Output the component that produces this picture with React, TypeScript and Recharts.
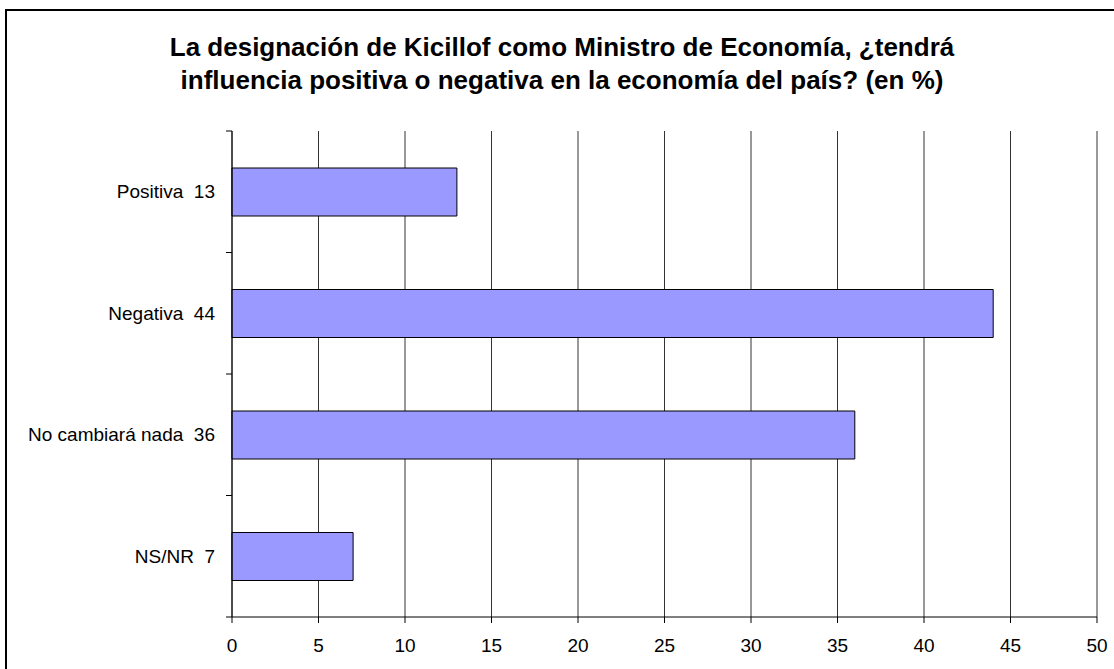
import React from "react";
import { BarChart, Bar, XAxis, YAxis, CartesianGrid } from "recharts";

const categories = ["Positiva\u00A0\u00A013", "Negativa\u00A0\u00A044", "No cambiará nada\u00A0\u00A036", "NS/NR\u00A0\u00A07"];
const values = [13, 44, 36, 7];
const xTicks = [0, 5, 10, 15, 20, 25, 30, 35, 40, 45, 50];
const titleLines = [
  "La designación de Kicillof como Ministro de Economía, ¿tendrá",
  "influencia positiva o negativa en la economía del país? (en %)",
];

const data = categories.map((c, i) => ({ name: c, value: values[i] }));

const FONT = '"Liberation Sans", Arial, sans-serif';
const TICK_SIZE = 6;
const TICK_MARGIN = 11;

function CategoryTick(props: any) {
  const { x, y, payload, index, height, visibleTicksCount } = props;
  const band = height / visibleTicksCount;
  const axisX = x + TICK_MARGIN + TICK_SIZE;
  const lines = [y - band / 2];
  if (index === visibleTicksCount - 1) lines.push(y + band / 2);
  return (
    <g>
      {lines.map((ly, i) => (
        <line key={i} x1={axisX - TICK_SIZE} x2={axisX} y1={ly} y2={ly} stroke="#000" strokeWidth={1} />
      ))}
      <text x={x} y={y} dy="0.355em" textAnchor="end" fill="#000" fontSize={19} fontFamily={FONT}>
        {payload.value}
      </text>
    </g>
  );
}

export default function App() {
  return (
    <div
      style={{
        position: "absolute",
        left: 0,
        top: 0,
        width: 1114,
        height: 669,
        overflow: "hidden",
        background: "#fff",
        fontFamily: FONT,
      }}
    >
      <div
        style={{
          position: "absolute",
          left: 5,
          top: 9,
          width: 1300,
          height: 900,
          border: "2px solid #000",
        }}
      />
      <div
        style={{
          position: "absolute",
          left: 0,
          top: 31,
          width: 1124,
          textAlign: "center",
          fontWeight: "bold",
          fontSize: 26,
          lineHeight: "33px",
          color: "#000",
        }}
      >
        {titleLines.map((t, i) => (
          <div key={i}>{t}</div>
        ))}
      </div>
      <div style={{ position: "absolute", left: 0, top: 0 }}>
        <BarChart
          width={1114}
          height={669}
          data={data}
          layout="vertical"
          margin={{ top: 131, right: 17, bottom: 12, left: 0 }}
          barSize={48}
        >
          <CartesianGrid vertical horizontal={false} stroke="#333" strokeOpacity={1} />
          <XAxis
            type="number"
            domain={[0, 50]}
            ticks={xTicks}
            interval={0}
            height={40}
            axisLine={{ stroke: "#000" }}
            tickLine={{ stroke: "#000" }}
            tickSize={6}
            tickMargin={16}
            tick={{ fill: "#000", fontSize: 19, fontFamily: FONT }}
          />
          <YAxis
            type="category"
            dataKey="name"
            width={232}
            axisLine={{ stroke: "#000" }}
            tickLine={false}
            tickSize={TICK_SIZE}
            tickMargin={TICK_MARGIN}
            interval={0}
            tick={<CategoryTick />}
          />
          <Bar
            dataKey="value"
            fill="#9999FF"
            stroke="#000"
            strokeWidth={1}
            isAnimationActive={false}
          />
        </BarChart>
      </div>
    </div>
  );
}
